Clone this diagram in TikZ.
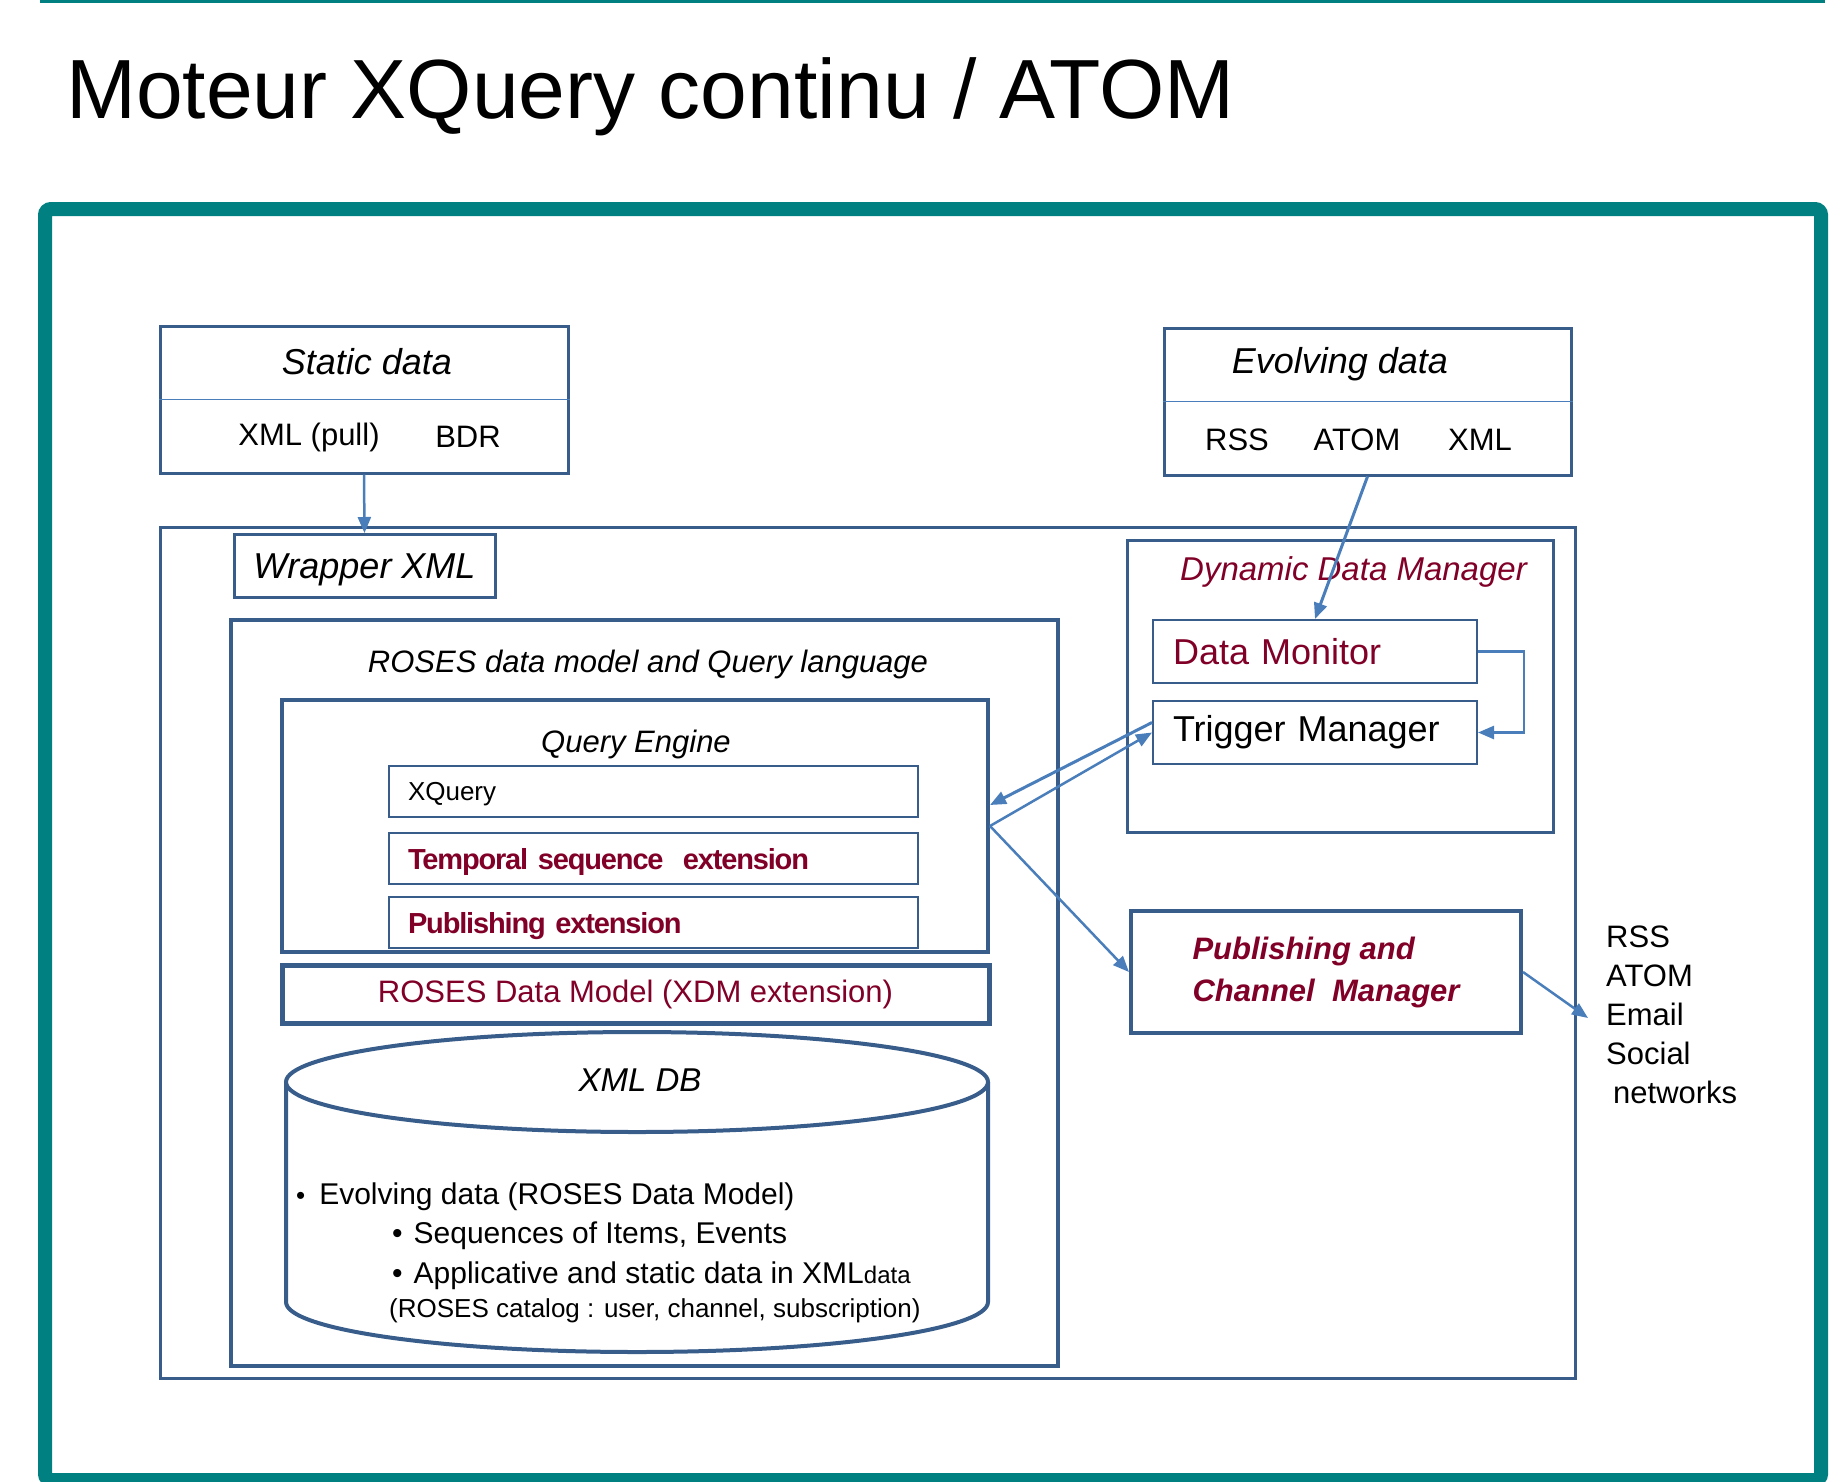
\documentclass[tikz,border=0pt]{standalone}
\usepackage{fontspec}
\setmainfont{Liberation Sans}
\usetikzlibrary{positioning, arrows.meta}
\definecolor{framecol}{RGB}{0,128,128}
\definecolor{boxblue}{RGB}{56,93,138}
\definecolor{arrowblue}{RGB}{74,126,187}
\definecolor{darkred}{RGB}{128,0,40}
\newcommand{\pxfont}[1]{\fontsize{#1}{#1}\selectfont}

\begin{document}
\begin{tikzpicture}[
        x=1pt, y=-1pt,
        box/.style={draw=boxblue, line width=3pt, inner sep=0pt},
        rowbox/.style={draw=boxblue, line width=2pt, minimum width=529pt, minimum height=51pt,
                       text width=491pt, inner xsep=19pt, inner ysep=0pt, align=left, text depth=0pt},
        mgrbox/.style={draw=boxblue, line width=2pt, minimum width=324pt, minimum height=63pt,
                       text width=284pt, inner xsep=20pt, inner ysep=0pt, align=left, font=\pxfont{36}},
        ext/.style={text=darkred, font=\bfseries\pxfont{29}\addfontfeatures{LetterSpace=-4}},
        divider/.style={draw=arrowblue, line width=1.5pt},
        dbline/.style={draw=boxblue, line width=4pt},
        arrow/.style={-{Triangle[length=16pt, width=13pt]}, draw=arrowblue, line width=2.5pt}
    ]
    \useasboundingbox (0,0) rectangle (1845,1481);

    % Slide frame and title
    \draw[framecol, line width=3pt] (40,1) -- (1825,1);
    \draw[framecol, line width=14pt, rounded corners=6pt] (45,209) rectangle (1821,1480);
    \node[anchor=base west, inner sep=0pt, font=\pxfont{84}] (title) at (66,118) {Moteur XQuery continu / ATOM};

    % Sources
    \node[box, minimum width=408pt, minimum height=147pt] (static) at (364,399.5) {};
    \draw[divider] (static.west) -- (static.east);
    \node[font=\itshape\pxfont{36}] (statictitle) at (367,362) {Static data};
    \node[font=\pxfont{31}] (pull) at (309,437) {XML (pull)};
    \node[font=\pxfont{31}] (bdr) at (468,437) {BDR};

    \node[box, minimum width=407pt, minimum height=147pt] (evolving) at (1367.5,401.5) {};
    \draw[divider] (evolving.west) -- (evolving.east);
    \node[font=\itshape\pxfont{36}] (evotitle) at (1340,364) {Evolving data};
    \node[font=\pxfont{31}] (rss) at (1237,440) {RSS};
    \node[font=\pxfont{31}] (atom) at (1357,440) {ATOM};
    \node[font=\pxfont{31}] (xml) at (1480,440) {XML};

    % System
    \node[box, minimum width=1415pt, minimum height=851pt] (system) at (867.5,952.5) {};
    \node[box, minimum width=261pt, minimum height=63pt, text depth=0pt, font=\itshape\pxfont{36}] (wrapper) at (364.5,566) {Wrapper XML};

    \node[box, line width=4pt, minimum width=827pt, minimum height=746pt] (roses) at (644.5,993) {};
    \node[font=\itshape\pxfont{31}] (roseslabel) at (648,664) {ROSES data model and Query language};

    \node[box, line width=4pt, minimum width=706pt, minimum height=252pt] (engine) at (635,826) {};
    \node[font=\itshape\pxfont{31}] (enginelabel) at (636,744) {Query Engine};
    \node[rowbox, font=\pxfont{26}] (xquery) at (653.5,791.5) {XQuery};
    \node[rowbox, ext, below=14pt of xquery] (temporal) {Temporal sequence\ \ extension};
    \node[rowbox, ext, below=11pt of temporal] (pubext) {Publishing extension};

    \node[box, line width=5pt, minimum width=707pt, minimum height=58pt, text=darkred, font=\pxfont{31}] (xdm) at (635.5,994) {ROSES Data Model (XDM extension)};

    % XML DB cylinder
    \draw[dbline] (286,1082) -- (286,1302) arc[start angle=180, end angle=360, x radius=351pt, y radius=50pt] -- (988,1082);
    \draw[dbline, fill=white] (637,1082) ellipse[x radius=351pt, y radius=50pt];
    \node[font=\itshape\pxfont{33}] (xmldb) at (640,1080) {XML DB};
    \node[anchor=base west, inner sep=0pt, font=\pxfont{30}] (db1) at (296,1204) {{\pxfont{26}•}\hspace{14pt}Evolving data (ROSES Data Model)};
    \node[anchor=base west, inner sep=0pt, font=\pxfont{30}] (db2) at (392,1243) {•\hspace{11pt}Sequences of Items, Events};
    \node[anchor=base west, inner sep=0pt, font=\pxfont{30}] (db3) at (392,1283) {•\hspace{11pt}Applicative and static data in XML{\pxfont{24}data}};
    \node[anchor=base west, inner sep=0pt, font=\pxfont{26}] (db4) at (389,1317) {(ROSES catalog : user, channel, subscription)};

    % Managers
    \node[box, minimum width=426pt, minimum height=292pt] (ddm) at (1340,686) {};
    \node[text=darkred, font=\itshape\pxfont{33}] (ddmlabel) at (1353.5,572) {Dynamic Data Manager};
    \node[mgrbox, text=darkred] (monitor) at (1315,651.5) {Data Monitor};
    \node[mgrbox, below=16pt of monitor] (trigger) {Trigger Manager};

    \node[box, line width=4pt, minimum width=390pt, minimum height=122pt, align=left, text=darkred,
          font=\bfseries\itshape\fontsize{31}{42}\selectfont] (pcm) at (1326,972) {Publishing and\\Channel\ \ Manager};
    \node[anchor=west, align=left, inner sep=0pt, font=\fontsize{31}{39}\selectfont] (channels) at (1606,1015) {RSS\\ATOM\\Email\\Social\\\hspace*{7pt}networks};

    % Arrows
    \draw[arrow] (static.south) -- (wrapper.north);
    \draw[arrow, line width=3pt] (evolving.south) -- (monitor.north);
    \draw[arrow] (monitor.east) -- ++(46,0) |- (trigger.east);
    \draw[arrow, line width=3pt] ([yshift=10pt]trigger.west) -- ([yshift=21pt]engine.east);
    \draw[arrow] (engine.east) -- (trigger.west);
    \draw[arrow] (engine.east) -- (pcm.west);
    \draw[arrow] (pcm.east) -- ([xshift=-18pt, yshift=-3pt]channels.west);

\end{tikzpicture}
\end{document}
